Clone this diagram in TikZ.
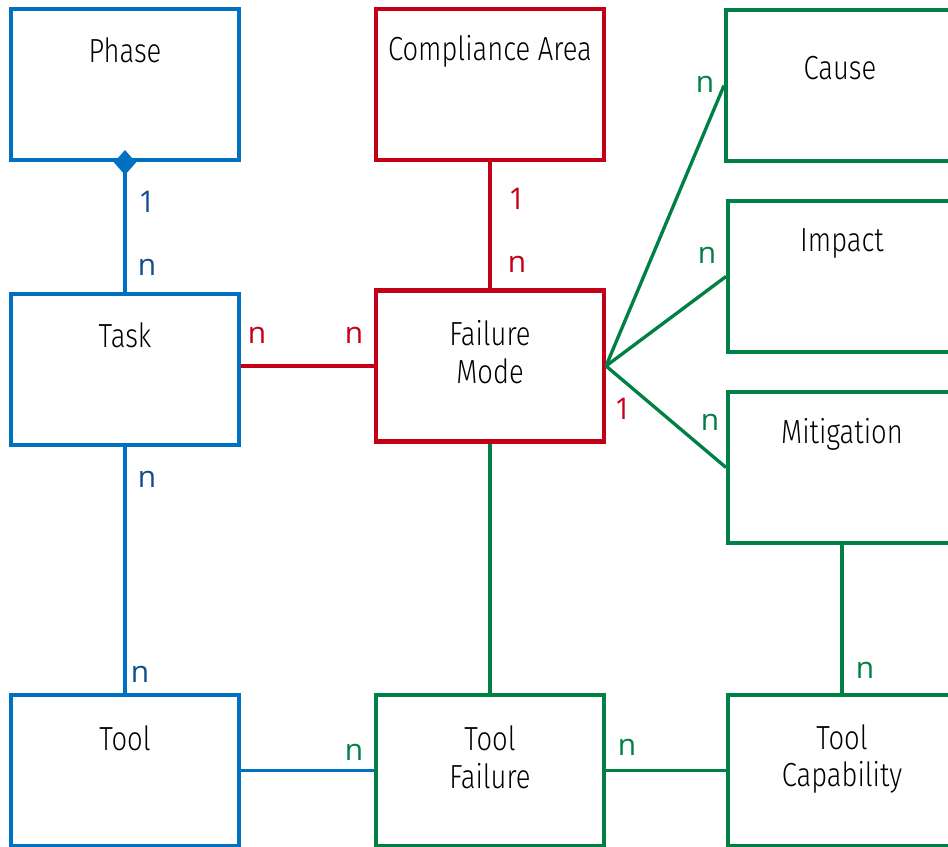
\documentclass[tikz,border=0pt]{standalone}
\usepackage{fontspec}
\setmainfont{Fira Sans}[UprightFont=* Light, FakeStretch=0.82]
\newfontfamily\cardfont{Open Sans}
\usepackage{tikz}
\usetikzlibrary{positioning,
                arrows.meta}                % arrow tips

\definecolor{erblue}{RGB}{0,112,192}
\definecolor{ernavy}{RGB}{18,78,140}
\definecolor{erred}{RGB}{196,0,24}
\definecolor{ergreen}{RGB}{0,128,68}

\tikzset{
    entity/.style={draw, rectangle, line width=2.3pt, minimum width=4.56cm,
                   minimum height=3.02cm, inner sep=0pt},
    bluebox/.style={entity, erblue},
    redbox/.style={entity, erred},
    greenbox/.style={entity, ergreen},
    caption/.style={font=\fontsize{19}{21.5}\selectfont, align=center, text=black},
    card/.style={font=\cardfont\fontsize{17}{20}\selectfont, anchor=base, inner sep=0pt},
    rel/.style={line width=1.9pt}
}

\begin{document}
\begin{tikzpicture}[x=0.02cm, y=-0.02cm]
        \useasboundingbox (0,0) rectangle (948,847);

        % entities
        \node[bluebox] (phase) at (125,84.5) {};
        \node[redbox] (comp) at (490,84.5) {};
        \node[greenbox] (cause) at (840,85.5) {};
        \node[bluebox] (task) at (125,369.5) {};
        \node[redbox] (fmode) at (490,366) {};
        \node[greenbox] (impact) at (842,276.5) {};
        \node[greenbox] (mitig) at (842,467.5) {};
        \node[bluebox] (tool) at (125,770.5) {};
        \node[greenbox] (tfail) at (490,770.5) {};
        \node[greenbox] (tcap) at (842,770.5) {};

        \node[caption] (phaseT) at (125,50) {Phase};
        \node[caption] (compT) at (490,51) {Compliance Area};
        \node[caption] (causeT) at (840,68) {Cause};
        \node[caption] (taskT) at (125,335) {Task};
        \node[caption] (fmodeT) at (490,352) {Failure\\Mode};
        \node[caption] (impactT) at (842,243) {Impact};
        \node[caption] (mitigT) at (842,434) {Mitigation};
        \node[caption] (toolT) at (125,738) {Tool};
        \node[caption] (tfailT) at (490,757) {Tool\\Failure};
        \node[caption] (tcapT) at (842,759) {Tool\\Capability};

        % relations
        \draw[rel, erblue, {Diamond[length=0.5cm, width=0.44cm]}-, shorten <=-0.24cm]
            (phase.south) -- (task.north);
        \draw[rel, erred] (comp.south) -- (fmode.north);
        \draw[rel, erred] (task.east |- fmode.west) -- (fmode.west);
        \draw[rel, ergreen] (fmode.east) -- (cause.west);
        \draw[rel, ergreen] (fmode.east) -- (impact.west);
        \draw[rel, ergreen] (fmode.east) -- (mitig.west);
        \draw[rel, ergreen] (fmode.south) -- (tfail.north);
        \draw[rel, erblue] (task.south) -- (tool.north);
        \draw[rel, erblue] (tool.east) -- (tfail.west);
        \draw[rel, ergreen] (tfail.east) -- (tcap.west);
        \draw[rel, ergreen] (mitig.south) -- (tcap.north);

        % cardinalities
        \node[card, ernavy] (phase1) at (147,213) {1};
        \node[card, ernavy] (taskn1) at (147,276) {n};
        \node[card, erred] (comp1) at (517,210) {1};
        \node[card, erred] (fmoden1) at (517,273) {n};
        \node[card, erred] (taskn2) at (257,344) {n};
        \node[card, erred] (fmoden2) at (354,344) {n};
        \node[card, erred] (fmode1) at (623,420) {1};
        \node[card, ergreen] (causen) at (705,93) {n};
        \node[card, ergreen] (impactn) at (707,264) {n};
        \node[card, ergreen] (mitign) at (710,431) {n};
        \node[card, ernavy] (taskn3) at (147,488) {n};
        \node[card, ernavy] (tooln) at (140,683) {n};
        \node[card, ergreen] (tfailn1) at (354,761) {n};
        \node[card, ergreen] (tfailn2) at (627,756) {n};
        \node[card, ergreen] (tcapn) at (865,679) {n};

    \end{tikzpicture}
\end{document}
